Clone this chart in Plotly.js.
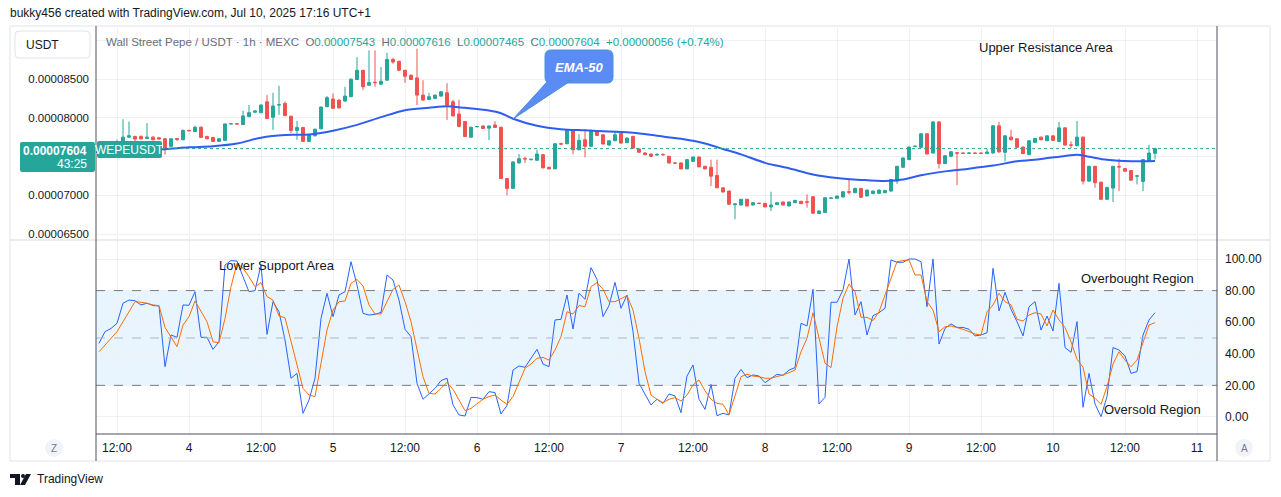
<!DOCTYPE html>
<html><head><meta charset="utf-8">
<script src="https://cdn.plot.ly/plotly-3.0.1.min.js"></script>
<style>html,body{margin:0;padding:0;background:#fff;overflow:hidden}#chart{width:1281px;height:497px}</style>
</head><body><div id="chart"></div>
<script>
// ---------- DATA (prices in units of 1e-8 USDT) ----------
const PRICE_UNIT = 1e-8;
const firstCandleTime = '2025-07-03 09:00'; // hourly candles from here
const open = [7520,7560,7530,7620,7697,7752,7761,7761,7735,7752,7744,7731,7633,7735,7718,7840,7825,7880,7761,7748,7697,7710,7923,7925,7915,8017,8073,8068,8209,8009,8167,8188,8021,7838,7876,7697,7770,7859,8145,8244,8230,8218,8274,8496,8615,8423,8460,8436,8487,8756,8731,8615,8551,8517,8295,8239,8252,8282,8325,8209,8051,7953,7752,7885,7897,7868,7910,7880,7218,7090,7419,7474,7460,7453,7525,7363,7342,7667,7667,7838,7590,7718,7633,7825,7782,7650,7705,7803,7680,7761,7598,7547,7534,7520,7530,7504,7419,7419,7342,7440,7496,7376,7363,7257,7098,7056,6880,6876,6949,6876,6900,6898,6851,6881,6915,6863,6906,6923,6918,6983,6765,6778,6962,6962,6979,7047,7034,7090,6992,7022,7026,7034,7056,7184,7363,7462,7630,7620,7795,7547,7949,7410,7504,7550,7547,7543,7547,7547,7539,7547,7898,7556,7752,7731,7624,7526,7684,7752,7705,7769,7697,7872,7652,7641,7752,7184,7376,7171,6949,7094,7372,7346,7320,7248,7180,7440,7543];
const high = [7600,7580,7680,7720,7983,7953,7770,7775,7932,7765,7752,7740,7740,7740,7850,7845,7900,7890,7770,7755,7740,7925,7930,7930,8094,8167,8100,8175,8295,8325,8415,8210,8030,7962,7885,7790,7860,8145,8282,8316,8240,8402,8510,8786,8620,8872,8872,8658,8842,8778,8740,8620,8560,8893,8487,8325,8300,8350,8449,8235,8235,7960,7885,7895,7900,7900,7958,7885,7220,7440,7534,7500,7465,7590,7534,7370,7670,7680,7850,7850,7790,7850,7850,7830,7790,7710,7830,7830,7750,7770,7605,7560,7540,7540,7540,7510,7425,7425,7470,7500,7500,7380,7462,7462,7100,7060,6895,6955,6955,6910,6905,6900,7047,6910,6920,6920,6940,6930,7013,6990,6805,6975,6970,6995,7050,7205,7100,7095,7075,7060,7075,7070,7210,7380,7490,7630,7640,7800,7800,7955,7955,7520,7570,7560,7552,7552,7552,7552,7598,7905,7949,7775,7846,7735,7630,7710,7740,7760,7775,7775,7949,7880,7697,7962,7760,7380,7380,7175,7110,7380,7475,7350,7325,7255,7465,7654,7616];
const low = [7500,7500,7510,7600,7675,7740,7700,7720,7730,7710,7720,7526,7620,7700,7710,7830,7820,7745,7725,7690,7690,7705,7920,7920,7910,8010,8065,8060,7985,7846,8039,8025,7804,7718,7690,7690,7760,7855,8140,8120,8120,8210,8270,8490,8359,8415,8402,8430,8480,8700,8610,8453,8490,8167,8220,8230,8240,8275,7975,8020,7880,7755,7745,7880,7860,7715,7870,7210,7000,7085,7410,7420,7455,7450,7350,7338,7340,7650,7660,7530,7580,7491,7630,7770,7660,7640,7700,7670,7675,7600,7550,7520,7495,7515,7510,7410,7410,7338,7338,7435,7365,7338,7120,7095,7040,6880,6693,6870,6860,6870,6885,6848,6799,6875,6870,6860,6900,6890,6842,6765,6760,6775,6958,6958,6975,7013,7030,6970,6988,7018,7022,7030,7050,7150,7360,7455,7625,7615,7530,7540,7346,7405,7500,7133,7538,7538,7538,7538,7535,7540,7555,7440,7712,7615,7535,7520,7680,7712,7700,7705,7692,7645,7611,7635,7141,7180,7099,6945,6945,6915,7056,7308,7190,7141,7056,7430,7465];
const close = [7560,7530,7620,7690,7752,7770,7727,7730,7752,7718,7727,7611,7731,7723,7838,7834,7880,7748,7731,7697,7731,7923,7925,7921,8026,8068,8090,8167,7992,8154,8170,8030,7838,7876,7697,7782,7855,8141,8261,8124,8130,8282,8500,8615,8402,8457,8455,8474,8756,8722,8615,8538,8496,8295,8231,8274,8295,8338,8167,8026,7889,7761,7880,7889,7863,7897,7876,7218,7090,7432,7474,7470,7466,7534,7355,7342,7667,7663,7838,7590,7710,7633,7838,7774,7663,7705,7782,7675,7740,7611,7556,7526,7504,7530,7525,7419,7415,7342,7462,7496,7368,7342,7248,7098,7043,6885,6890,6949,6863,6906,6895,6851,6876,6906,6876,6915,6936,6893,6912,6770,6799,6970,6966,6992,7047,7042,7090,6975,7069,7056,7069,7064,7205,7376,7483,7624,7635,7795,7534,7949,7410,7513,7564,7545,7543,7547,7543,7543,7560,7898,7560,7769,7718,7620,7539,7705,7735,7718,7769,7710,7872,7650,7648,7752,7184,7376,7163,6949,7103,7376,7367,7312,7197,7252,7462,7547,7604];
// EMA-50, read at sampled hours (hours after 2025-07-03 12:00)
const emaHour  = [-3.5,0,4,8,12,16,20,24,28,32,36,40,44,48,52,55,58,62,64,66,70,74,78,82,86,90,94,98,101,104,108,112,116,120,124,128,131,134,138,142,146,150,154,158,160,162,165,169,173];
const emaValue = [7560,7570,7580,7595,7620,7635,7670,7745,7780,7785,7835,7910,8010,8100,8130,8150,8130,8095,8060,7990,7900,7855,7840,7825,7810,7770,7730,7670,7600,7530,7420,7350,7270,7225,7200,7185,7205,7260,7310,7345,7385,7440,7470,7510,7525,7500,7460,7440,7445];
// Stochastic RSI (same hourly times as the candles)
const stochK = [46.6,54,56,59.3,72,74,73.6,70.9,72,70.5,70.3,31.8,51.9,50.4,70.9,70.7,79.3,50.4,50.4,42.8,47.6,96.2,99,98.7,88.8,79.3,80,96.2,52.3,73,66.6,48.7,24.5,27.6,2.3,10.7,24.5,62.4,78.3,63.5,77.2,79.3,98.3,83.5,65.6,64.5,65,66.2,89.9,86.7,74,55.5,50.8,21.3,11.2,14.5,18.1,23,24.5,7.6,1.3,0.6,12.4,12.2,11.2,16,15.4,1.9,7.2,29.7,32.3,31.4,37.1,42.8,33.5,31.8,61.4,61.8,77.2,55.7,78.3,74.5,94.5,87.1,63.5,70.5,85.2,68.8,77.2,54,21.3,14.5,7.6,11.2,8.6,14.5,13.3,2.7,25.9,32.9,11.2,4.8,20.6,0.8,2.3,1.3,24.5,30.1,24.9,26.6,25.9,21.7,24.5,27,26.3,29.7,31.2,59.3,57.6,80.8,8.2,12.4,72.6,72.6,80.4,100,64.5,73,51.9,64.1,66,68.8,99.4,97.9,97.9,100,100,98.3,69.8,100,46.2,56.1,58.9,56.7,56.7,55.5,51.3,51.9,53.3,94.1,67.1,78.9,68.1,60.3,51.3,69.8,73,55,63.9,54.4,84.6,43.9,40.9,60.3,6.1,27.6,8.2,0.2,12.9,43.9,42.4,38.6,27.6,28.7,51.9,61.4,66];
const stochD = [41.3,45.5,49.8,54,60.3,66.6,73,72.6,72,70.9,70.5,56.7,50.8,44.5,58.2,63.5,73.4,66.6,60.3,47.6,47,62.4,82.5,97.3,94.1,88.8,82.5,85,76.2,74,63.9,62.8,47.6,33.5,18.1,13.9,12.9,34,55,67.7,73,73.4,84.6,87.1,82.9,70.9,65.2,65.2,73.4,80.8,83.5,73,60.3,42.4,25.5,14.9,14.5,18.1,21.9,17.5,10.7,4,5.4,8.6,11.2,12.9,13.9,10.7,8,12.9,22.3,30.8,33.5,37.1,37.7,36,42.4,50.8,66.6,65.2,70.5,69.8,82.5,85,80.8,73,73,75.1,76.8,67.7,49.8,28.7,13.9,11.2,9,11.2,12.2,10.1,13.9,20.3,23.4,16.6,11.2,8.6,8,1.3,12.9,25.5,27,25.9,25.5,24.5,24.5,25.5,26.6,28,29.7,41.3,49.8,66,49.8,34,31.2,57,75.1,84.1,79.3,63.1,63.1,61,66.6,77.2,88.8,98.3,99,99.4,89.9,89.9,73,67.7,54,57.1,57.6,56.7,55.5,54,52.5,51.9,66.6,70.9,78.3,73,70.9,61.8,60.7,64.5,66,65.2,57.6,67.7,61.4,56.7,47.6,36.5,31.4,14.5,11.8,8,19.2,33.5,41.3,36,31.8,36,46.6,58.2,59.7];
const priceTicks = [6500,7000,7500,8000,8500,9000];
const priceTickText = ['0.00006500','0.00007000','','0.00008000','0.00008500',''];
const stochTicks = [0,20,40,60,80,100];
const stochTickText = ['0.00','20.00','40.00','60.00','80.00','100.00'];
const xTickText = ['12:00','4','12:00','5','12:00','6','12:00','7','12:00','8','12:00','9','12:00','10','12:00','11'];
const lastPrice = 7604;

// ---------- helpers ----------
const T0 = Date.parse(firstCandleTime.replace(' ','T')+':00Z');
const fmt = ms => new Date(ms).toISOString().slice(0,19).replace('T',' ');
const times = open.map((_,i)=>fmt(T0 + i*3600000));
const hourRef = T0 + 3*3600000; // 2025-07-03 12:00
const atHour = h => fmt(hourRef + h*3600000);
const sc = a => a.map(v=>v*PRICE_UNIT);

const L=96,R=1217,T=25,B=434;
const px = x => (x-L)/(R-L);
const py = y => (B-y)/(B-T);
const FONT = 'Liberation Sans, Arial, sans-serif';
const GREEN='#26a69a', RED='#ef5350', GRID='#edf0f4';

const traces = [
  {type:'candlestick', x:times, open:sc(open), high:sc(high), low:sc(low), close:sc(close),
   xaxis:'x', yaxis:'y', whiskerwidth:0,
   increasing:{line:{color:GREEN,width:1}, fillcolor:GREEN},
   decreasing:{line:{color:RED,width:1}, fillcolor:RED}, hoverinfo:'skip'},
  {type:'scatter', mode:'lines', x:emaHour.map(atHour), y:sc(emaValue), xaxis:'x', yaxis:'y',
   line:{color:'#2f5cf3', width:2, shape:'spline', smoothing:0.8}, hoverinfo:'skip'},
  {type:'scatter', mode:'lines', x:times, y:stochK, xaxis:'x', yaxis:'y2',
   line:{color:'#2962ff', width:1}, hoverinfo:'skip'},
  {type:'scatter', mode:'lines', x:times, y:stochD, xaxis:'x', yaxis:'y2',
   line:{color:'#ff6d00', width:1}, hoverinfo:'skip'}
];

const xTickVals = xTickText.map((_,k)=>atHour(12*k));

function rrect(x0,y0,x1,y1,r){ // rounded rect path in paper coords from pixels
  const X=px, Y=py;
  return `M${X(x0+r)},${Y(y0)} L${X(x1-r)},${Y(y0)} Q${X(x1)},${Y(y0)} ${X(x1)},${Y(y0+r)} L${X(x1)},${Y(y1-r)} Q${X(x1)},${Y(y1)} ${X(x1-r)},${Y(y1)} L${X(x0+r)},${Y(y1)} Q${X(x0)},${Y(y1)} ${X(x0)},${Y(y1-r)} L${X(x0)},${Y(y0+r)} Q${X(x0)},${Y(y0)} ${X(x0+r)},${Y(y0)} Z`;
}
function poly(pts){ return 'M'+pts.map(p=>px(p[0])+','+py(p[1])).join(' L')+' Z'; }
const P = (extra)=>Object.assign({xref:'paper',yref:'paper'},extra);

const shapes = [
  P({type:'rect', x0:px(10), x1:px(1270), y0:py(26), y1:py(461), line:{color:'#e0e3eb',width:1}, layer:'below'}),
  {type:'rect', xref:'paper', yref:'y2', x0:0, x1:1, y0:20, y1:80, fillcolor:'rgba(33,150,243,0.1)', line:{width:0}, layer:'below'},
  {type:'line', xref:'paper', yref:'y2', x0:0, x1:1, y0:80, y1:80, line:{color:'#787b86',width:1,dash:'dash'}},
  {type:'line', xref:'paper', yref:'y2', x0:0, x1:1, y0:50, y1:50, line:{color:'#b2b5be',width:1,dash:'dash'}},
  {type:'line', xref:'paper', yref:'y2', x0:0, x1:1, y0:20, y1:20, line:{color:'#787b86',width:1,dash:'dash'}},
  {type:'line', xref:'paper', yref:'y', x0:0, x1:1, y0:lastPrice*PRICE_UNIT, y1:lastPrice*PRICE_UNIT, line:{color:GREEN,width:1,dash:'dot'}},
  P({type:'line', x0:px(10), x1:px(1270), y0:py(240), y1:py(240), line:{color:'#d6d9e0',width:1}}),
  P({type:'line', x0:0, x1:0, y0:py(26), y1:py(461), line:{color:'#50535e',width:1}}),
  P({type:'line', x0:1, x1:1, y0:py(26), y1:py(461), line:{color:'#50535e',width:1}}),
  P({type:'line', x0:0, x1:1, y0:0, y1:0, line:{color:'#50535e',width:1}}),
  P({type:'path', path:rrect(15,31,90,58,4), fillcolor:'#ffffff', line:{color:'#e0e3eb',width:1}}),
  P({type:'path', path:rrect(20,142,95,172,2), fillcolor:GREEN, line:{width:0}}),
  P({type:'path', path:rrect(97,141,162,158,2), fillcolor:GREEN, line:{width:0}}),
  P({type:'path', path:rrect(545,50,613,83,6), fillcolor:'#5b8cf5', line:{color:'#4a8fd6',width:1}}),
  P({type:'path', path:poly([[549,80],[572,80],[513,119]]), fillcolor:'#5b8cf5', line:{color:'#4a8fd6',width:1}}),
  P({type:'path', path:poly([[550,78],[571,78],[520,112]]), fillcolor:'#5b8cf5', line:{width:0}}),
  P({type:'circle', x0:px(45), x1:px(63), y0:py(439), y1:py(457), fillcolor:'#f0f3fa', line:{width:0}}),
  P({type:'circle', x0:px(1235), x1:px(1253), y0:py(439), y1:py(457), fillcolor:'#f0f3fa', line:{width:0}}),
  P({type:'path', path:poly([[10,474],[20,474],[20,485],[15,485],[15,478],[10,478]]), fillcolor:'#131722', line:{width:0}}),
  P({type:'circle', x0:px(21), x1:px(25), y0:py(474), y1:py(478), fillcolor:'#131722', line:{width:0}}),
  P({type:'path', path:poly([[26,474],[31,474],[25,485],[20,485]]), fillcolor:'#131722', line:{width:0}})
];

const A = (x,y,text,o)=>Object.assign({xref:'paper',yref:'paper',x:px(x),y:py(y),text:text,showarrow:false,
  font:{family:FONT,size:13,color:'#131722'},xanchor:'center',yanchor:'middle'},o||{});
const g = s=>`<span style="color:#26a69a">${s}</span>`;
const annotations = [
  A(8,13,'bukky456 created with TradingView.com, Jul 10, 2025 17:16 UTC+1',{xanchor:'left',font:{family:FONT,size:12,color:'#131722'}}),
  A(24,45,'USDT',{xanchor:'left',font:{family:FONT,size:12,color:'#131722'}}),
  A(104,42,'Wall Street Pepe / USDT · 1h · MEXC  O'+g('0.00007543')+'  H'+g('0.00007616')+'  L'+g('0.00007465')+'  C'+g('0.00007604')+'  '+g('+0.00000056 (+0.74%)'),
    {xanchor:'left',font:{family:FONT,size:11.5,color:'#6a6d78'}}),
  A(89,151,'<b>0.00007604</b>',{xanchor:'right',font:{family:FONT,size:12,color:'#ffffff'}}),
  A(89,164,'43:25',{xanchor:'right',font:{family:FONT,size:12,color:'#ffffff'}}),
  A(129.5,150,'WEPEUSDT',{font:{family:FONT,size:12,color:'#ffffff'}}),
  A(579,67,'<b><i>EMA-50</i></b>',{font:{family:FONT,size:13,color:'#ffffff'}}),
  A(1046,48,'Upper Resistance Area'),
  A(277,265,'Lower Support Area'),
  A(1137,278,'Overbought Region'),
  A(1152,409,'Oversold Region'),
  A(54,448,'Z',{font:{family:FONT,size:10,color:'#787b86'}}),
  A(1244,448,'A',{font:{family:FONT,size:10,color:'#787b86'}}),
  A(35,479,'TradingView',{xanchor:'left',font:{family:FONT,size:12,color:'#131722'}})
];

const layout = {
  width:1281, height:497, margin:{l:L, r:1281-R, t:T, b:497-B},
  paper_bgcolor:'#ffffff', plot_bgcolor:'#ffffff', showlegend:false, hovermode:false,
  font:{family:FONT, color:'#131722'},
  xaxis:{type:'date', range:[atHour(-3.5), atHour(183.33)], anchor:'y2', tickvals:xTickVals, ticktext:xTickText,
    showgrid:true, gridcolor:GRID, zeroline:false, showline:false, ticks:'', tickfont:{size:12,color:'#131722'},
    ticklabelstandoff:5, rangeslider:{visible:false}, fixedrange:true},
  yaxis:{domain:[0.4768,1], range:[6437*PRICE_UNIT, 9200*PRICE_UNIT], tickvals:sc(priceTicks), ticktext:priceTickText,
    side:'left', anchor:'x', showgrid:true, gridcolor:GRID, zeroline:false, showline:false, ticks:'',
    tickfont:{size:11.5,color:'#131722'}, ticklabelstandoff:6},
  yaxis2:{domain:[0,0.4719], range:[-10.8,111.4], tickvals:stochTicks, ticktext:stochTickText,
    side:'right', anchor:'x', showgrid:true, gridcolor:GRID, zeroline:false, showline:false, ticks:'',
    tickfont:{size:12,color:'#131722'}, ticklabelstandoff:7},
  shapes:shapes, annotations:annotations
};
Plotly.newPlot('chart', traces, layout, {staticPlot:true, displayModeBar:false});
</script></body></html>
